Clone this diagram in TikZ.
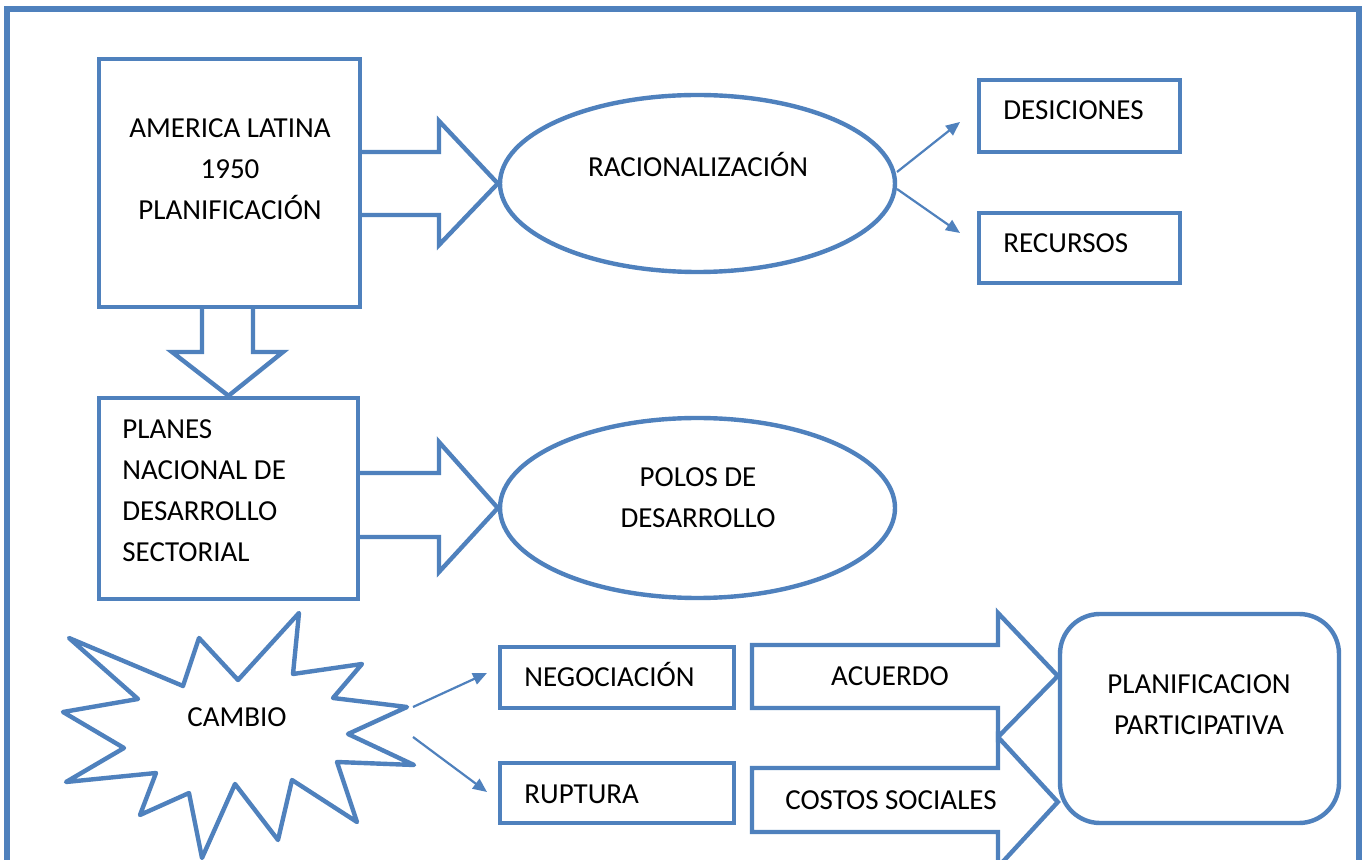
\documentclass[tikz,border=0pt]{standalone}
\usepackage{fontspec}
\setmainfont{Carlito}
\usetikzlibrary{shapes.geometric,arrows.meta}
\definecolor{ofblue}{RGB}{79,129,189}
\tikzset{
  txt/.style={font=\fontsize{14.5}{20.5}\selectfont, inner sep=0pt, text=black},
  boxn/.style={draw=ofblue, line width=2.2pt, inner sep=0pt, fill=white},
  ell/.style={draw=ofblue, line width=2.2pt, ellipse, inner sep=0pt, fill=white},
  blockarrow/.style={draw=ofblue, line width=2.2pt, line join=miter, fill=white},
  burst/.style={draw=ofblue, line width=2.2pt, line join=round, fill=white},
  thinarrow/.style={draw=ofblue, line width=1.1pt, -{Triangle[length=7pt,width=6pt]}},
  frame/.style={draw=ofblue, line width=2.6pt}
}
\begin{document}
\begin{tikzpicture}[x=0.5pt,y=-0.5pt]
\useasboundingbox (0,0) rectangle (1366,860);
\clip (0,0) rectangle (1366,860);
\fill[white] (0,0) rectangle (1366,860);
\draw[frame] (7,9) rectangle (1359,900);

% top row
\node[boxn, minimum width=130.5pt, minimum height=124pt] (b1) at (229.5,183) {};
\node[txt, align=center] (b1t) at (230,169) {AMERICA LATINA\\1950\\PLANIFICACIÓN};
\node[ell, minimum width=197.5pt, minimum height=88.5pt] (e1) at (697.5,183.5) {};
\node[txt, anchor=base] (e1t) at (698,177) {RACIONALIZACIÓN};
\draw[blockarrow] (b1.east |- 0,152) -- (439,152) -- (439,121) -- (e1.west) -- (439,245) -- (439,215) -- (b1.east |- 0,215);

\node[boxn, minimum width=100.5pt, minimum height=36pt] (des) at (1079.5,116) {};
\node[txt, anchor=base west] (dest) at (1003,120) {DESICIONES};
\node[boxn, minimum width=100.5pt, minimum height=35pt] (rec) at (1079.5,248) {};
\node[txt, anchor=base west] (rect) at (1003,253) {RECURSOS};
\coordinate (d1s) at (897,172);
\coordinate (d1e) at (960,122);
\coordinate (d2s) at (897,189);
\coordinate (d2e) at (960,233);
\draw[thinarrow] (d1s) -- (d1e);
\draw[thinarrow] (d2s) -- (d2e);

% second row
\node[boxn, minimum width=129.5pt, minimum height=100.5pt] (b2) at (228.5,498.5) {};
\node[txt, align=left, anchor=west] (b2t) at (122,491) {PLANES\\NACIONAL DE\\DESARROLLO\\SECTORIAL};
\draw[blockarrow] (b1.south -| 202,0) -- (202,352) -- (172,352) -- (b2.north) -- (283,352) -- (253,352) -- (b1.south -| 253,0);
\node[ell, minimum width=197.5pt, minimum height=90pt] (e2) at (697.5,508) {};
\node[txt, align=center] (e2t) at (698,498) {POLOS DE\\DESARROLLO};
\draw[blockarrow] (b2.east |- 0,473) -- (439,473) -- (439,442) -- (e2.west) -- (439,572) -- (439,537) -- (b2.east |- 0,537);

% bottom row
\draw[burst] (69,638) -- (183,686) -- (199,638) -- (238,680) -- (299,613) -- (293,674)
  -- (362,664) -- (333,698) -- (407,707) -- (348,734) -- (414,765) -- (337,762)
  -- (357,822) -- (292,780) -- (278,840) -- (235,784) -- (202,858) -- (189,793)
  -- (140,815) -- (156,773) -- (66,782) -- (124,748) -- (63,712) -- (138,699) -- cycle;
\node[txt, anchor=base] (cambio) at (237,726) {CAMBIO};

\node[boxn, minimum width=117pt, minimum height=30.5pt] (neg) at (617,677.5) {};
\node[txt, anchor=base west] (negt) at (524,687) {NEGOCIACIÓN};
\node[boxn, minimum width=117pt, minimum height=30pt] (rup) at (617,793) {};
\node[txt, anchor=base west] (rupt) at (524,804) {RUPTURA};
\coordinate (c1s) at (413,707);
\coordinate (c1e) at (487,673);
\coordinate (c2s) at (413,737);
\coordinate (c2e) at (487,792);
\draw[thinarrow] (c1s) -- (c1e);
\draw[thinarrow] (c2s) -- (c2e);

\node[boxn, rounded corners=20pt, minimum width=139.5pt, minimum height=104.5pt] (pp) at (1199.5,718.5) {};
\node[txt, align=center] (ppt) at (1199,704.5) {PLANIFICACION\\PARTICIPATIVA};

\draw[blockarrow] (752,645) -- (998,645) -- (998,613) -- (pp.west |- 0,676) -- (998,737) -- (998,708) -- (752,708) -- cycle;
\node[txt, anchor=base] (acu) at (890,686) {ACUERDO};
\draw[blockarrow] (752,768) -- (998,768) -- (998,737) -- (pp.west |- 0,802) -- (998,867) -- (998,832) -- (752,832) -- cycle;
\node[txt, anchor=base] (cos) at (891,809) {COSTOS SOCIALES};
\end{tikzpicture}
\end{document}
